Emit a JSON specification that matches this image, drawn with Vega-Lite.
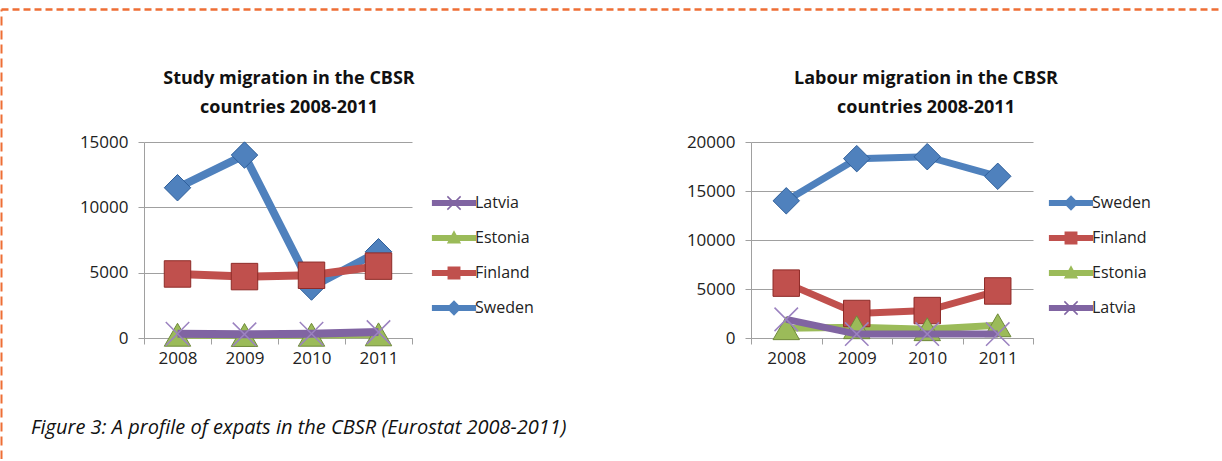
{
  "$schema": "https://vega.github.io/schema/vega-lite/v6.json",
  "padding": {"left": 1, "top": 9, "right": 0, "bottom": 0},
  "background": "white",
  "config": {
    "font": "Open Sans",
    "view": {"stroke": null},
    "axis": {"labelFont": "Open Sans", "labelFontSize": 17, "labelColor": "#222", "domainColor": "#a0a0a0", "tickColor": "#a0a0a0", "gridColor": "#a0a0a0", "tickSize": 6},
    "title": {"font": "Open Sans", "fontSize": 18, "fontWeight": "bold", "color": "#111"},
    "legend": {"labelFont": "Open Sans", "labelFontSize": 16, "labelColor": "#222"}
  },
  "datasets": {
    "frame": [],
    "study": [
      {"country": "Sweden", "year": "2008", "value": 11500},
      {"country": "Sweden", "year": "2009", "value": 14000},
      {"country": "Sweden", "year": "2010", "value": 3900},
      {"country": "Sweden", "year": "2011", "value": 6600},
      {"country": "Finland", "year": "2008", "value": 4900},
      {"country": "Finland", "year": "2009", "value": 4700},
      {"country": "Finland", "year": "2010", "value": 4800},
      {"country": "Finland", "year": "2011", "value": 5500},
      {"country": "Estonia", "year": "2008", "value": 250},
      {"country": "Estonia", "year": "2009", "value": 230},
      {"country": "Estonia", "year": "2010", "value": 250},
      {"country": "Estonia", "year": "2011", "value": 280},
      {"country": "Latvia", "year": "2008", "value": 330},
      {"country": "Latvia", "year": "2009", "value": 280},
      {"country": "Latvia", "year": "2010", "value": 330},
      {"country": "Latvia", "year": "2011", "value": 450}
    ],
    "labour": [
      {"country": "Sweden", "year": "2008", "value": 14000},
      {"country": "Sweden", "year": "2009", "value": 18300},
      {"country": "Sweden", "year": "2010", "value": 18500},
      {"country": "Sweden", "year": "2011", "value": 16500},
      {"country": "Finland", "year": "2008", "value": 5600},
      {"country": "Finland", "year": "2009", "value": 2500},
      {"country": "Finland", "year": "2010", "value": 2800},
      {"country": "Finland", "year": "2011", "value": 4800},
      {"country": "Estonia", "year": "2008", "value": 1000},
      {"country": "Estonia", "year": "2009", "value": 1100},
      {"country": "Estonia", "year": "2010", "value": 900},
      {"country": "Estonia", "year": "2011", "value": 1300},
      {"country": "Latvia", "year": "2008", "value": 1900},
      {"country": "Latvia", "year": "2009", "value": 400},
      {"country": "Latvia", "year": "2010", "value": 400},
      {"country": "Latvia", "year": "2011", "value": 400}
    ]
  },
  "spacing": 0,
  "resolve": {"scale": {"color": "independent", "shape": "independent", "stroke": "independent", "x": "independent", "y": "independent"}},
  "hconcat": [
    {
      "width": 1,
      "height": 450,
      "data": {"name": "frame"},
      "mark": "point",
      "encoding": {
        "y": {"field": "f", "type": "quantitative", "scale": {"domain": [0, 1]}, "axis": {"title": null, "labels": false, "ticks": false, "grid": false, "minExtent": 0, "domainColor": "#EE6E35", "domainWidth": 2, "domainDash": [9, 5]}}
      }
    },
    {
      "columns": 1,
      "align": "none",
      "spacing": 41,
      "resolve": {"scale": {"color": "independent", "shape": "independent", "stroke": "independent", "x": "independent", "y": "independent"}},
      "concat": [
        {
          "width": 1,
          "height": 0,
          "data": {"name": "frame"},
          "mark": "point",
          "encoding": {
            "x": {"field": "f", "type": "quantitative", "scale": {"domain": [0, 1], "range": [-143, 1075]}, "axis": {"orient": "top", "title": null, "labels": false, "ticks": false, "grid": false, "minExtent": 0, "domainColor": "#EE6E35", "domainWidth": 2.5, "domainDash": [7, 4]}}
          }
        },
        {
          "title": {"text": "Figure 3: A profile of expats in the CBSR (Eurostat 2008-2011)", "orient": "bottom", "anchor": "start", "fontStyle": "italic", "fontWeight": "normal", "fontSize": 20, "dx": 29, "offset": 52, "color": "#111"},
          "spacing": 149,
          "resolve": {"scale": {"color": "independent", "shape": "independent", "stroke": "independent", "x": "independent", "y": "independent"}},
          "hconcat": [
            {
              "width": 268,
              "height": 196,
              "title": {"text": ["Study migration in the CBSR", "countries 2008-2011"], "dx": 11, "offset": 16, "lineHeight": 29},
              "data": {"name": "study"},
              "encoding": {
                "x": {"field": "year", "type": "ordinal", "scale": {"type": "band", "paddingInner": 0, "paddingOuter": 0}, "axis": {"title": null, "labelAngle": 0, "tickBand": "extent", "grid": false, "labelPadding": 6}},
                "y": {"field": "value", "type": "quantitative", "scale": {"domain": [0, 15000]}, "axis": {"title": null, "values": [0, 5000, 10000, 15000], "format": "d", "grid": true, "labelPadding": 10, "minExtent": 142}},
                "color": {
                  "field": "country", "type": "nominal",
                  "scale": {"domain": ["Latvia", "Estonia", "Finland", "Sweden"], "range": ["#8064A2", "#9BBB59", "#C0504D", "#4F81BD"]},
                  "legend": {
                    "title": null, "orient": "none", "legendX": 293, "legendY": 44, "symbolSize": 1156, "rowPadding": 10, "labelOffset": 4,
                    "encode": {"symbols": {"update": {
                      "shape": {"signal": "datum.value === 'Sweden' ? 'M-1.3,-0.17L1.3,-0.17L1.3,0.17L-1.3,0.17Z M0,-0.45L0.45,0L0,0.45L-0.45,0Z' : datum.value === 'Finland' ? 'M-1.3,-0.17L1.3,-0.17L1.3,0.17L-1.3,0.17Z M-0.38,-0.38L0.38,-0.38L0.38,0.38L-0.38,0.38Z' : datum.value === 'Estonia' ? 'M-1.3,-0.17L1.3,-0.17L1.3,0.17L-1.3,0.17Z M0,-0.45L0.42,0.32L-0.42,0.32Z' : 'M-1.3,-0.17L1.3,-0.17L1.3,0.17L-1.3,0.17Z M-0.42,-0.36L-0.36,-0.42L0.42,0.36L0.36,0.42Z M0.36,-0.42L0.42,-0.36L-0.36,0.42L-0.42,0.36Z'"},
                      "fill": {"signal": "datum.value === 'Sweden' ? '#4F81BD' : datum.value === 'Finland' ? '#C0504D' : datum.value === 'Estonia' ? '#9BBB59' : '#8064A2'"},
                      "stroke": {"value": "transparent"},
                      "strokeWidth": {"value": 0},
                      "opacity": {"value": 1}
                    }}}
                  }
                }
              },
              "layer": [
                {"transform": [{"filter": "datum.country != 'Latvia'"}], "mark": {"type": "line", "strokeWidth": 8}},
                {
                  "transform": [{"filter": "datum.country != 'Latvia'"}],
                  "mark": {"type": "point", "filled": true, "size": 700, "opacity": 1, "strokeWidth": 1},
                  "encoding": {
                    "shape": {"field": "country", "type": "nominal", "scale": {"domain": ["Sweden", "Finland", "Estonia"], "range": ["diamond", "square", "triangle-up"]}, "legend": null},
                    "stroke": {"field": "country", "type": "nominal", "scale": {"domain": ["Sweden", "Finland", "Estonia"], "range": ["#2f5f9a", "#8e2b28", "#6f8a3a"]}, "legend": null}
                  }
                },
                {"transform": [{"filter": "datum.country == 'Latvia'"}], "mark": {"type": "line", "strokeWidth": 8}},
                {
                  "transform": [{"filter": "datum.country == 'Latvia'"}],
                  "mark": {"type": "point", "filled": false, "size": 550, "opacity": 1, "strokeWidth": 1.5, "shape": "M-1,-1L1,1M-1,1L1,-1", "stroke": "#9b82c0"},
                  "encoding": {"color": {"value": "#9b82c0"}}
                }
              ]
            },
            {
              "width": 282,
              "height": 196,
              "title": {"text": ["Labour migration in the CBSR", "countries 2008-2011"], "dx": 34, "offset": 16, "lineHeight": 29},
              "data": {"name": "labour"},
              "encoding": {
                "x": {"field": "year", "type": "ordinal", "scale": {"type": "band", "paddingInner": 0, "paddingOuter": 0}, "axis": {"title": null, "labelAngle": 0, "tickBand": "extent", "grid": false, "labelPadding": 6}},
                "y": {"field": "value", "type": "quantitative", "scale": {"domain": [0, 20000]}, "axis": {"title": null, "values": [0, 5000, 10000, 15000, 20000], "format": "d", "grid": true, "labelPadding": 10, "minExtent": 68}},
                "color": {
                  "field": "country", "type": "nominal",
                  "scale": {"domain": ["Sweden", "Finland", "Estonia", "Latvia"], "range": ["#4F81BD", "#C0504D", "#9BBB59", "#8064A2"]},
                  "legend": {
                    "title": null, "orient": "none", "legendX": 303, "legendY": 44, "symbolSize": 1156, "rowPadding": 10, "labelOffset": 4,
                    "encode": {"symbols": {"update": {
                      "shape": {"signal": "datum.value === 'Sweden' ? 'M-1.3,-0.17L1.3,-0.17L1.3,0.17L-1.3,0.17Z M0,-0.45L0.45,0L0,0.45L-0.45,0Z' : datum.value === 'Finland' ? 'M-1.3,-0.17L1.3,-0.17L1.3,0.17L-1.3,0.17Z M-0.38,-0.38L0.38,-0.38L0.38,0.38L-0.38,0.38Z' : datum.value === 'Estonia' ? 'M-1.3,-0.17L1.3,-0.17L1.3,0.17L-1.3,0.17Z M0,-0.45L0.42,0.32L-0.42,0.32Z' : 'M-1.3,-0.17L1.3,-0.17L1.3,0.17L-1.3,0.17Z M-0.42,-0.36L-0.36,-0.42L0.42,0.36L0.36,0.42Z M0.36,-0.42L0.42,-0.36L-0.36,0.42L-0.42,0.36Z'"},
                      "fill": {"signal": "datum.value === 'Sweden' ? '#4F81BD' : datum.value === 'Finland' ? '#C0504D' : datum.value === 'Estonia' ? '#9BBB59' : '#8064A2'"},
                      "stroke": {"value": "transparent"},
                      "strokeWidth": {"value": 0},
                      "opacity": {"value": 1}
                    }}}
                  }
                }
              },
              "layer": [
                {"transform": [{"filter": "datum.country != 'Latvia'"}], "mark": {"type": "line", "strokeWidth": 7}},
                {
                  "transform": [{"filter": "datum.country != 'Latvia'"}],
                  "mark": {"type": "point", "filled": true, "size": 700, "opacity": 1, "strokeWidth": 1},
                  "encoding": {
                    "shape": {"field": "country", "type": "nominal", "scale": {"domain": ["Sweden", "Finland", "Estonia"], "range": ["diamond", "square", "triangle-up"]}, "legend": null},
                    "stroke": {"field": "country", "type": "nominal", "scale": {"domain": ["Sweden", "Finland", "Estonia"], "range": ["#2f5f9a", "#8e2b28", "#6f8a3a"]}, "legend": null}
                  }
                },
                {"transform": [{"filter": "datum.country == 'Latvia'"}], "mark": {"type": "line", "strokeWidth": 7}},
                {
                  "transform": [{"filter": "datum.country == 'Latvia'"}],
                  "mark": {"type": "point", "filled": false, "size": 550, "opacity": 1, "strokeWidth": 1.5, "shape": "M-1,-1L1,1M-1,1L1,-1", "stroke": "#9b82c0"},
                  "encoding": {"color": {"value": "#9b82c0"}}
                }
              ]
            }
          ]
        }
      ]
    }
  ]
}
